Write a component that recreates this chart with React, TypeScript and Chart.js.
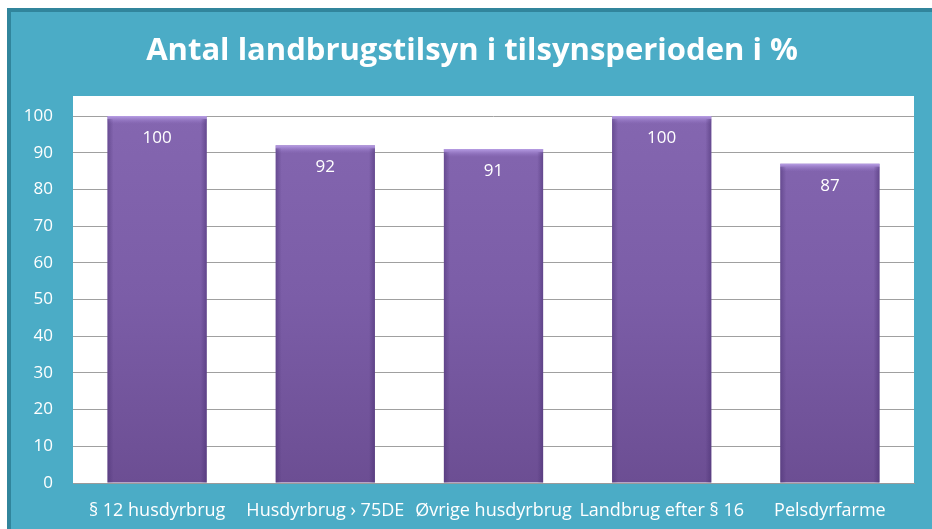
import React, { useEffect, useRef } from "react";
import { Chart, registerables } from "chart.js";

Chart.register(...registerables);

const TITLE = "Antal landbrugstilsyn i tilsynsperioden i %";
const categories = [
  "§ 12 husdyrbrug",
  "Husdyrbrug › 75DE",
  "Øvrige husdyrbrug",
  "Landbrug efter § 16",
  "Pelsdyrfarme",
];
const values = [100, 92, 91, 100, 87];
const yTicks = [0, 10, 20, 30, 40, 50, 60, 70, 80, 90, 100];

const FONT = "'Open Sans', Lato, sans-serif";
const TEAL = "#4BACC6";
const DARK_TEAL = "#31859C";

const backgroundPlugin = {
  id: "bg",
  beforeDraw(chart: any) {
    const { ctx, width, height, chartArea } = chart;
    ctx.save();
    ctx.fillStyle = "#ffffff";
    ctx.fillRect(0, 0, width, height);
    ctx.fillStyle = DARK_TEAL;
    ctx.fillRect(7, 8, width - 7, height - 8);
    ctx.fillStyle = TEAL;
    ctx.fillRect(11, 12, width - 11, height - 12);
    ctx.fillStyle = "#ffffff";
    ctx.fillRect(chartArea.left, chartArea.top - 20, chartArea.right - chartArea.left, chartArea.bottom - chartArea.top + 20);
    ctx.fillStyle = "#ffffff";
    ctx.font = `bold 31px ${FONT}`;
    ctx.textAlign = "center";
    ctx.textBaseline = "middle";
    ctx.fillText(TITLE, 472, 51);
    ctx.restore();
  },
};

const barDecorPlugin = {
  id: "barDecor",
  afterDatasetsDraw(chart: any) {
    const { ctx } = chart;
    const meta = chart.getDatasetMeta(0);
    ctx.save();
    meta.data.forEach((bar: any, i: number) => {
      const w = bar.width;
      const left = bar.x - w / 2;
      const right = bar.x + w / 2;
      const top = bar.y;
      const bottom = bar.base;
      const g = ctx.createLinearGradient(0, top, 0, top + 8);
      g.addColorStop(0, "rgba(190,165,235,0.9)");
      g.addColorStop(1, "rgba(150,120,200,0)");
      ctx.fillStyle = g;
      ctx.fillRect(left, top, w, 8);
      const gl = ctx.createLinearGradient(left, 0, left + 6, 0);
      gl.addColorStop(0, "rgba(70,45,110,0.45)");
      gl.addColorStop(1, "rgba(70,45,110,0)");
      ctx.fillStyle = gl;
      ctx.fillRect(left, top + 3, 6, bottom - top - 3);
      const gr = ctx.createLinearGradient(right - 6, 0, right, 0);
      gr.addColorStop(0, "rgba(70,45,110,0)");
      gr.addColorStop(1, "rgba(70,45,110,0.5)");
      ctx.fillStyle = gr;
      ctx.fillRect(right - 6, top + 3, 6, bottom - top - 3);
      ctx.fillStyle = "#ffffff";
      ctx.font = `17px ${FONT}`;
      ctx.textAlign = "center";
      ctx.textBaseline = "middle";
      ctx.fillText(String(values[i]), bar.x, top + 22);
    });
    ctx.restore();
  },
};

export default function App() {
  const canvasRef = useRef<HTMLCanvasElement | null>(null);

  useEffect(() => {
    document.body.style.margin = "0";
    const canvas = canvasRef.current!;
    const ctx = canvas.getContext("2d")!;
    const chart = new Chart(ctx, {
      type: "bar",
      data: {
        labels: categories,
        datasets: [
          {
            data: values,
            backgroundColor: (c: any) => {
              const area = c.chart.chartArea;
              if (!area) return "#7B5DA6";
              const g = c.chart.ctx.createLinearGradient(0, area.top, 0, area.bottom);
              g.addColorStop(0, "#8466B0");
              g.addColorStop(0.5, "#7B5DA7");
              g.addColorStop(1, "#6C4E93");
              return g;
            },
            borderWidth: 0,
            categoryPercentage: 1,
            barPercentage: 0.59,
          },
        ],
      },
      plugins: [backgroundPlugin, barDecorPlugin],
      options: {
        responsive: false,
        animation: false,
        layout: { padding: { top: 116, right: 18, left: 0, bottom: 0 } },
        plugins: {
          legend: { display: false },
          title: { display: false },
          tooltip: { enabled: false },
        },
        scales: {
          x: {
            grid: { display: false, drawTicks: false },
            border: { display: true, color: "#9A9A9A", width: 1 },
            ticks: {
              color: "#ffffff",
              font: { family: FONT, size: 18 },
              padding: 17,
              maxRotation: 0,
              autoSkip: false,
            },
            afterFit(scale: any) {
              scale.height = 46;
            },
          },
          y: {
            min: 0,
            max: 100,
            afterBuildTicks(scale: any) {
              scale.ticks = yTicks.map((v) => ({ value: v }));
            },
            grid: { color: "#A0A0A0", drawTicks: false, lineWidth: 1 },
            border: { display: false },
            ticks: {
              color: "#ffffff",
              font: { family: FONT, size: 17 },
              padding: 20,
            },
            afterFit(scale: any) {
              scale.width = 73;
            },
          },
        },
      },
    });
    return () => chart.destroy();
  }, []);

  return (
    <div style={{ position: "absolute", left: 0, top: 0, width: 932, height: 529 }}>
      <canvas ref={canvasRef} width={932} height={529} style={{ display: "block" }} />
    </div>
  );
}
